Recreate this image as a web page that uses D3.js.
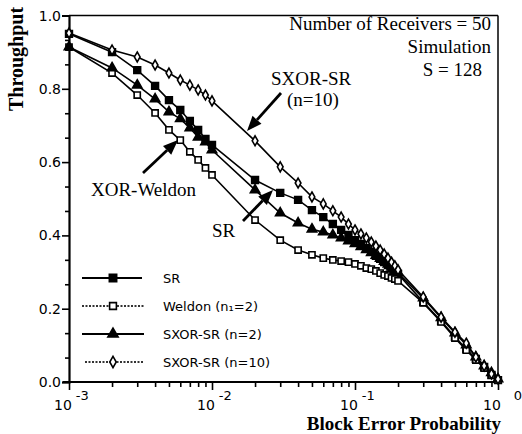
<!DOCTYPE html>
<html><head><meta charset="utf-8">
<script src="https://d3js.org/d3.v7.min.js"></script>
<style>body{margin:0;background:#fff}svg{display:block}</style>
</head><body>
<svg id="c" width="522" height="434"></svg>
<script>
// ---- data ----
const blockErr = [0.001,0.002,0.003,0.004,0.005,0.006,0.007,0.008,0.009,0.01,
  0.02,0.03,0.04,0.05,0.06,0.07,0.08,0.09,0.1,
  0.11,0.12,0.13,0.14,0.15,0.16,0.17,0.18,0.19,0.2,
  0.3,0.4,0.5,0.6,0.7,0.8,0.9,1.0];
const srVals = [0.950,0.900,0.851,0.808,0.769,0.742,0.712,0.688,0.663,0.647,
  0.551,0.516,0.497,0.469,0.450,0.431,0.415,0.401,0.387,
  0.377,0.366,0.355,0.344,0.336,0.327,0.319,0.311,0.303,0.295,
  0.218,0.166,0.123,0.090,0.063,0.041,0.019,0.005];
const weldonVals = [0.914,0.843,0.783,0.734,0.688,0.660,0.628,0.606,0.584,0.565,
  0.442,0.387,0.360,0.347,0.338,0.333,0.330,0.327,0.322,
  0.317,0.311,0.308,0.303,0.297,0.292,0.289,0.284,0.281,0.276,
  0.216,0.164,0.120,0.087,0.060,0.038,0.019,0.005];
const sxor2Vals = [0.914,0.857,0.810,0.772,0.737,0.718,0.693,0.668,0.655,0.633,
  0.524,0.461,0.434,0.417,0.409,0.401,0.393,0.385,0.377,
  0.369,0.361,0.353,0.345,0.337,0.329,0.321,0.313,0.305,0.298,
  0.229,0.175,0.134,0.101,0.068,0.044,0.025,0.008];
const sxor10Vals = [0.952,0.906,0.887,0.865,0.843,0.824,0.810,0.797,0.783,0.767,
  0.658,0.587,0.543,0.505,0.486,0.467,0.450,0.431,0.415,
  0.404,0.393,0.382,0.371,0.360,0.349,0.338,0.327,0.317,0.306,
  0.232,0.177,0.136,0.106,0.068,0.044,0.022,0.008];
const seriesNames = ["SR","Weldon (n\u2081=2)","SXOR-SR (n=2)","SXOR-SR (n=10)"];
const yTicks = [0,0.2,0.4,0.6,0.8,1.0];
const yTickLabels = ["0.0","0.2","0.4","0.6","0.8","1.0"];
const xTicks = [0.001,0.01,0.1,1];
const xTickBase = ["10","10","10","10"];
const xTickExp = ["-3","-2","-1","0"];

// ---- layout ----
const svg = d3.select("#c");
const L=69, R=498, T=15.5, B=382;
const x = d3.scaleLog().domain([0.001,1]).range([L,R]);
const y = d3.scaleLinear().domain([0,1]).range([B,T]);
const serif = "'Liberation Serif','Times New Roman',serif";
const sans = "'DejaVu Sans',sans-serif";

// frame
svg.append("line").attr("x1",L).attr("x2",R).attr("y1",T).attr("y2",T).attr("stroke","#000").attr("stroke-width",1.5);
svg.append("line").attr("x1",R).attr("x2",R).attr("y1",T).attr("y2",B).attr("stroke","#000").attr("stroke-width",1.5);

// y axis
const yMinor = [];
yTicks.slice(0,-1).forEach(v=>{for(let k=1;k<3;k++) yMinor.push(v+k*0.2/3);});
const yAx = svg.append("g").attr("transform",`translate(${L},0)`)
  .call(d3.axisLeft(y).tickValues(yTicks).tickSize(7).tickFormat(""));
svg.append("g").attr("transform",`translate(${L},0)`)
  .call(d3.axisLeft(y).tickValues(yMinor).tickSize(4).tickFormat("")).select(".domain").remove();
yAx.select(".domain").attr("stroke-width",2.2);
svg.selectAll(".tick line").attr("stroke-width",1.6);
svg.append("g").selectAll("text").data(yTicks).join("text")
  .attr("x",61).attr("y",d=>y(d)+5).attr("text-anchor","end")
  .attr("font-family",sans).attr("font-size",14).text((d,i)=>yTickLabels[i]);

// x axis
const xMinor = [];
[0.001,0.01,0.1].forEach(b=>{for(let k=2;k<10;k++) xMinor.push(b*k);});
const xAx = svg.append("g").attr("transform",`translate(0,${B})`)
  .call(d3.axisBottom(x).tickValues(xTicks).tickSize(8).tickFormat(""));
xAx.select(".domain").attr("stroke-width",2.2).attr("d",`M${L-6},0H${R}`);
svg.append("g").attr("transform",`translate(0,${B})`)
  .call(d3.axisBottom(x).tickValues(xMinor).tickSize(5).tickFormat("")).select(".domain").remove();
svg.selectAll(".tick line").attr("stroke-width",1.6);
const xl = svg.append("g").selectAll("text").data(xTicks).join("text")
  .attr("x",d=>x(d)-15).attr("y",410).attr("font-family",sans).attr("font-size",14);
xl.append("tspan").text((d,i)=>xTickBase[i]);
xl.append("tspan").attr("dx",(d,i)=>i==3?13:4).attr("dy",-10).attr("font-size",13).text((d,i)=>xTickExp[i]);

// axis titles
svg.append("text").attr("x",501).attr("y",430).attr("text-anchor","end")
  .attr("font-family",serif).attr("font-weight","bold").attr("font-size",19).text("Block Error Probability");
svg.append("text").attr("transform","translate(23,59) rotate(-90)").attr("text-anchor","middle")
  .attr("font-family",serif).attr("font-weight","bold").attr("font-size",20).text("Throughput");

// series
const allVals = [srVals,weldonVals,sxor2Vals,sxor10Vals];
const symTypes = [d3.symbolSquare,d3.symbolSquare,d3.symbolTriangle,d3.symbolDiamond];
const symSizes = [46,38,38,28];
const symFill = ["#000","#fff","#000","#fff"];
const line = d3.line().x(d=>x(d[0])).y(d=>y(d[1]));
allVals.forEach(vals=>{
  const pts = blockErr.map((p,i)=>[p,vals[i]]);
  svg.append("path").datum(pts).attr("d",line).attr("fill","none").attr("stroke","#000").attr("stroke-width",1.6);
});
allVals.forEach((vals,si)=>{
  const pts = blockErr.map((p,i)=>[p,vals[i]]);
  svg.append("g").selectAll("path").data(pts).join("path")
    .attr("transform",d=>`translate(${x(d[0])},${y(d[1])})`)
    .attr("d",d3.symbol().type(symTypes[si]).size(symSizes[si]))
    .attr("fill",symFill[si]).attr("stroke","#000").attr("stroke-width",1.6);
});

// annotations
const ann = [["Number of Receivers = 50",491,30],["Simulation",491,53],["S = 128",482,76]];
ann.forEach(a=>svg.append("text").attr("x",a[1]).attr("y",a[2]).attr("text-anchor","end")
  .attr("font-family",serif).attr("font-size",19).text(a[0]));
const labs = [["SXOR-SR",271,85],["(n=10)",287,106],["XOR-Weldon",91,196],["SR",212,237]];
labs.forEach(a=>svg.append("text").attr("x",a[1]).attr("y",a[2])
  .attr("font-family",serif).attr("font-size",19).text(a[0]));
function arrow(x1,y1,x2,y2){
  const ang=Math.atan2(y2-y1,x2-x1), hl=15, hw=6;
  const bx=x2-hl*Math.cos(ang), by=y2-hl*Math.sin(ang);
  svg.append("line").attr("x1",x1).attr("y1",y1).attr("x2",bx).attr("y2",by).attr("stroke","#000").attr("stroke-width",2.8);
  const px=-Math.sin(ang)*hw, py=Math.cos(ang)*hw;
  svg.append("path").attr("d",`M${x2},${y2}L${bx+px},${by+py}L${bx-px},${by-py}Z`).attr("fill","#000");
}
arrow(281,93,247,131);
arrow(143,173,178,140);
arrow(243,221,273,190);

// legend
const legY = [278,306,334,362];
const legX1 = [82,82,82,85], legX2 = [142,144,144,144];
const legDash = [null,"2,1.5",null,"2,1.5"];
const legCol = ["#000","#333","#000","#333"];
seriesNames.forEach((n,i)=>{
  const g = svg.append("g");
  g.append("line").attr("x1",legX1[i]).attr("x2",legX2[i]).attr("y1",legY[i]).attr("y2",legY[i])
    .attr("stroke",legCol[i]).attr("stroke-width",2).attr("stroke-dasharray",legDash[i]);
  g.append("path").attr("transform",`translate(113,${legY[i]})`)
    .attr("d",d3.symbol().type(symTypes[i]).size(symSizes[i]+8))
    .attr("fill",symFill[i]).attr("stroke","#000").attr("stroke-width",1.6);
  g.append("text").attr("x",163).attr("y",legY[i]+5).attr("font-family",sans).attr("font-size",13).text(n);
});
</script>
</body></html>
